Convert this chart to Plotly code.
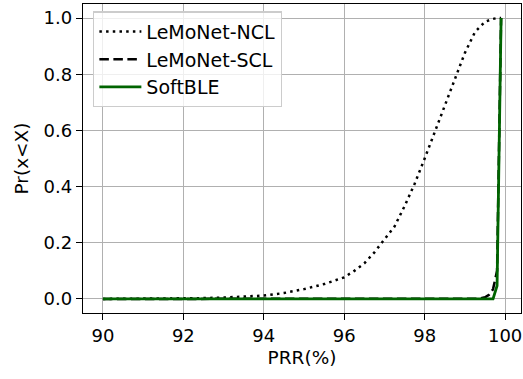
import plotly.graph_objects as go

# CDF of packet reception ratio (PRR) for three schemes
ncl_prr = [90, 91, 92, 92.5, 93, 93.5, 94, 94.5, 95, 95.5, 96, 96.25, 96.5, 96.75,
           97, 97.25, 97.5, 97.75, 98, 98.25, 98.5, 98.75, 99, 99.25, 99.5, 99.7,
           99.8, 99.9]
ncl_cdf = [0.0, 0.0005, 0.0015, 0.003, 0.005, 0.008, 0.012, 0.021, 0.035, 0.053,
           0.077, 0.1, 0.127, 0.166, 0.21, 0.258, 0.33, 0.41, 0.5, 0.594, 0.685,
           0.785, 0.876, 0.95, 0.987, 0.997, 1.0, 1.0]

scl_prr = [90, 99.2, 99.3, 99.4, 99.5, 99.6, 99.7, 99.8, 99.9]
scl_cdf = [0.0, 0.0, 0.001, 0.003, 0.006, 0.015, 0.035, 0.1, 1.0]

soft_prr = [90, 99.6, 99.7, 99.8, 99.9]
soft_cdf = [0.0, 0.0, 0.0, 0.047, 1.0]

x_ticks = [90, 92, 94, 96, 98, 100]
y_ticks = [0.0, 0.2, 0.4, 0.6, 0.8, 1.0]

FONT = "DejaVu Sans"

fig = go.Figure()
fig.add_trace(go.Scatter(
    x=ncl_prr, y=ncl_cdf, mode="lines", name="LeMoNet-NCL",
    line=dict(color="black", width=2.5, dash="2.5px,4.2px"),
    legendgroup="a"))
fig.add_trace(go.Scatter(
    x=scl_prr, y=scl_cdf, mode="lines", name="LeMoNet-SCL",
    line=dict(color="black", width=2.5, dash="9.5px,4.5px"),
    legendgroup="b"))
fig.add_trace(go.Scatter(
    x=soft_prr, y=soft_cdf, mode="lines", name="SoftBLE",
    line=dict(color="#006400", width=2.8),
    legendgroup="c"))

axis_common = dict(
    showline=True, linecolor="black", linewidth=1.3, mirror=True,
    showgrid=True, gridcolor="#b0b0b0", gridwidth=1.3,
    ticks="outside", ticklen=6, tickwidth=1.3, tickcolor="black",
    zeroline=False, tickfont=dict(family=FONT, size=18, color="black"),
)

fig.update_xaxes(
    range=[89.505, 100.395], tickvals=x_ticks,
    ticktext=[str(v) for v in x_ticks],
    title=dict(text="PRR(%)", font=dict(family=FONT, size=18.5, color="black"),
               standoff=6),
    **axis_common)
fig.update_yaxes(
    range=[-0.05, 1.05], tickvals=y_ticks,
    ticktext=[f"{v:.1f}" for v in y_ticks],
    title=dict(text="Pr(x<X)", font=dict(family=FONT, size=18.5, color="black"),
               standoff=10),
    **axis_common)

fig.update_layout(
    width=523, height=379,
    margin=dict(l=83, r=2, t=4, b=66),
    paper_bgcolor="white", plot_bgcolor="white",
    font=dict(family=FONT, size=18, color="black"),
    legend=dict(
        x=0.023, y=0.976, xanchor="left", yanchor="top",
        bgcolor="rgba(255,255,255,0.8)", bordercolor="#cccccc", borderwidth=1.3,
        font=dict(family=FONT, size=19, color="black"),
        itemwidth=42, tracegroupgap=0,
    ),
    showlegend=True,
)

fig.write_html("out.html")
